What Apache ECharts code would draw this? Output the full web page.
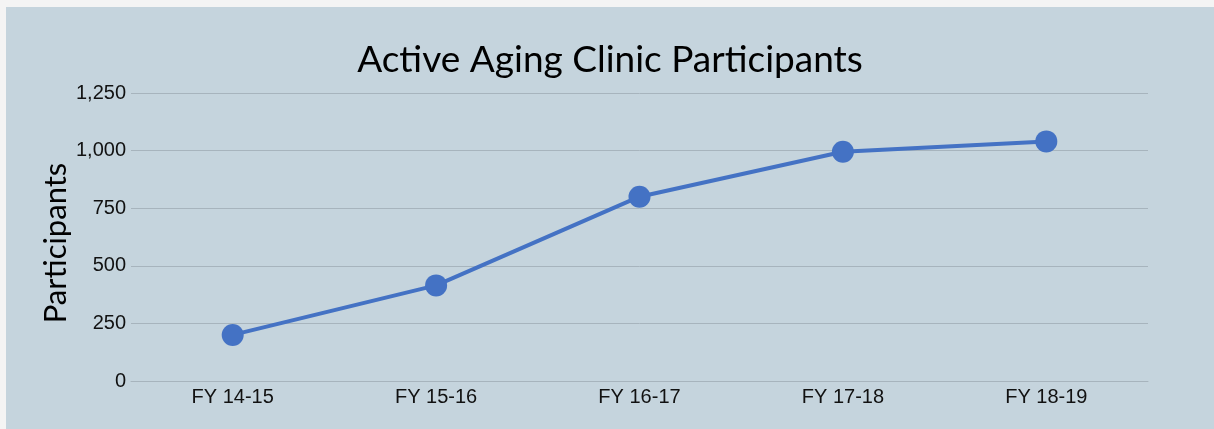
<!DOCTYPE html>
<html>
<head>
<meta charset="utf-8">
<script src="https://cdn.jsdelivr.net/npm/echarts@6/dist/echarts.min.js"></script>
<style>
  html, body { margin: 0; padding: 0; background: #f4f4f4; }
  #chart { position: absolute; left: 6px; top: 7px; width: 1208px; height: 422px; }
</style>
</head>
<body>
<div id="chart"></div>
<script>
// data
var categories = ["FY 14-15", "FY 15-16", "FY 16-17", "FY 17-18", "FY 18-19"];
var participants = [200, 415, 800, 995, 1040];
var yTicks = [0, 250, 500, 750, 1000, 1250];

var chart = echarts.init(document.getElementById("chart"));
var option = {
  backgroundColor: "#c5d4dd",
  animation: false,
  title: {
    text: "Active Aging Clinic Participants",
    left: "center",
    top: 30,
    textStyle: {
      fontFamily: "Lato",
      fontWeight: "normal",
      fontSize: 37,
      color: "#000"
    }
  },
  grid: {
    left: 125,
    right: 66,
    top: 86,
    bottom: 48
  },
  xAxis: {
    type: "category",
    data: categories,
    axisLine: { show: true, lineStyle: { color: "#a7b4bd", width: 1 } },
    axisTick: { show: false },
    axisLabel: {
      color: "#111",
      fontFamily: "Liberation Sans",
      fontSize: 20,
      margin: 6
    }
  },
  yAxis: {
    type: "value",
    min: yTicks[0],
    max: yTicks[yTicks.length - 1],
    interval: 250,
    name: "Participants",
    nameLocation: "middle",
    nameGap: 60,
    nameMoveOverlap: false,
    nameTextStyle: {
      fontFamily: "Lato",
      fontSize: 31,
      color: "#000",
      padding: [0, 12, 0, 0]
    },
    axisLine: { show: false },
    axisTick: { show: false },
    splitLine: { lineStyle: { color: "#a7b4bd", width: 1 } },
    axisLabel: {
      color: "#111",
      fontFamily: "Liberation Sans",
      fontSize: 20,
      margin: 5,
      formatter: function (v) {
        return v.toLocaleString("en-US");
      }
    }
  },
  series: [
    {
      name: "Participants",
      type: "line",
      data: participants,
      symbol: "circle",
      symbolSize: 22,
      itemStyle: { color: "#4472c4" },
      lineStyle: { color: "#4472c4", width: 4 }
    }
  ]
};
chart.setOption(option);
</script>
</body>
</html>
